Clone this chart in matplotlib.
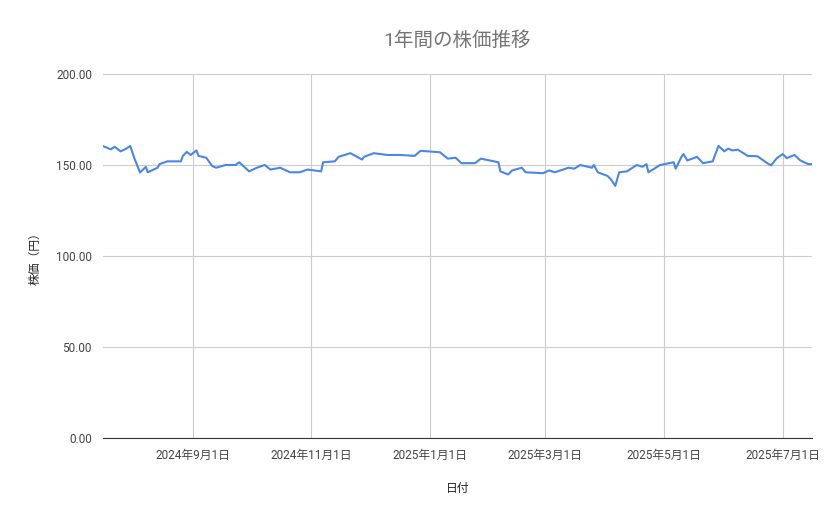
import matplotlib
matplotlib.use("Agg")
import matplotlib.pyplot as plt
import pandas as pd

plt.rcParams['font.family'] = ['Roboto', 'Noto Sans CJK JP', 'DejaVu Sans']

dates = ["2024-07-17","2024-07-21","2024-07-23","2024-07-26","2024-07-29","2024-07-31","2024-08-02",
 "2024-08-05","2024-08-08","2024-08-09","2024-08-14","2024-08-15","2024-08-19","2024-08-26","2024-08-27",
 "2024-08-29","2024-08-31","2024-09-03","2024-09-04","2024-09-08","2024-09-11","2024-09-13","2024-09-18",
 "2024-09-23","2024-09-25","2024-09-30","2024-10-04","2024-10-08","2024-10-11","2024-10-16","2024-10-21",
 "2024-10-26","2024-10-30","2024-11-06","2024-11-07","2024-11-13","2024-11-15","2024-11-21","2024-11-27",
 "2024-11-28","2024-12-03","2024-12-10","2024-12-17","2024-12-24","2024-12-27","2025-01-06","2025-01-10",
 "2025-01-14","2025-01-17","2025-01-24","2025-01-27","2025-02-05","2025-02-06","2025-02-10","2025-02-12",
 "2025-02-17","2025-02-19","2025-02-28","2025-03-03","2025-03-06","2025-03-13","2025-03-16","2025-03-19",
 "2025-03-25","2025-03-26","2025-03-28","2025-04-02","2025-04-04","2025-04-06","2025-04-08","2025-04-12",
 "2025-04-17","2025-04-20","2025-04-22","2025-04-23","2025-04-29","2025-05-06","2025-05-07","2025-05-10",
 "2025-05-11","2025-05-13","2025-05-18","2025-05-21","2025-05-26","2025-05-29","2025-06-01","2025-06-03",
 "2025-06-05","2025-06-08","2025-06-13","2025-06-18","2025-06-23","2025-06-25","2025-06-28","2025-07-01",
 "2025-07-03","2025-07-07","2025-07-10","2025-07-14","2025-07-16"]
prices = [160.4,158.6,160.0,157.5,159.0,160.5,154.0,
 145.9,149.0,146.0,148.5,150.5,152.0,152.0,155.0,
 157.2,155.5,158.0,155.0,154.0,149.5,148.5,150.0,
 150.0,151.5,146.5,148.5,150.0,147.5,148.5,146.0,
 146.0,147.5,146.5,151.5,152.0,154.5,156.5,153.0,
 154.5,156.5,155.5,155.5,155.0,157.8,157.0,153.5,
 154.0,151.0,151.0,153.5,151.5,146.5,144.8,147.0,
 148.5,146.0,145.5,147.0,146.0,148.5,148.0,150.0,
 148.5,150.0,146.0,144.0,141.8,138.5,146.0,146.5,
 150.0,149.0,150.5,146.0,150.0,151.5,148.0,154.5,
 156.0,152.5,154.5,151.0,152.0,160.5,157.5,159.0,
 158.0,158.4,155.0,154.8,151.0,149.8,153.8,156.0,
 153.8,155.5,152.5,150.5,150.5]
tick_dates = ["2024-09-01","2024-11-01","2025-01-01","2025-03-01","2025-05-01","2025-07-01"]
y_ticks = [0, 50, 100, 150, 200]

x = pd.to_datetime(dates)
fig = plt.figure(figsize=(8.39, 5.19), dpi=100)
ax = fig.add_axes([103/839, 1-438/519, (812-103)/839, (438-74)/519])
ax.plot(x, prices, color='#4a86e8', lw=1.5)
ax.set_xlim(pd.Timestamp("2024-07-17"), pd.Timestamp("2025-07-16"))
ax.set_ylim(0, 200)
ax.set_yticks(y_ticks)
ax.set_yticklabels([f"{v:.2f}" for v in y_ticks])
tx = pd.to_datetime(tick_dates)
ax.set_xticks(tx)
ax.set_xticklabels([f"{d.year}年{d.month}月{d.day}日" for d in tx])
ax.grid(True, color='#cccccc', lw=0.8)
ax.set_axisbelow(True)
for s in ['top', 'right', 'left']:
    ax.spines[s].set_visible(False)
ax.spines['bottom'].set_color('#333333')
ax.tick_params(length=0, labelsize=8.5, colors='#444444', pad=8)
ax.set_title("1年間の株価推移", fontsize=14, color='#757575', pad=20)
ax.set_xlabel("日付", fontsize=8.5, color='#222222', labelpad=14)
ax.set_ylabel("株価（円）", fontsize=8.5, color='#222222', labelpad=10)
fig.savefig("out.png", dpi=100)
